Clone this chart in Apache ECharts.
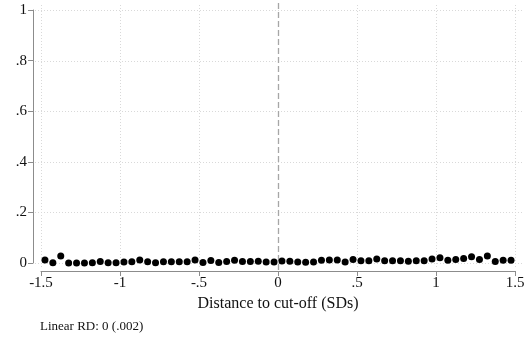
<!DOCTYPE html>
<html>
<head>
<meta charset="utf-8">
<script src="https://cdn.jsdelivr.net/npm/echarts@6/dist/echarts.min.js"></script>
<style>
  html, body { margin: 0; padding: 0; background: #fff; }
  #chart { width: 531px; height: 342px; }
</style>
</head>
<body>
<div id="chart"></div>
<script>
// Bin midpoints of the running variable (distance to cut-off, in SDs)
const binCenters = [
  -1.475, -1.425, -1.375, -1.325, -1.275, -1.225, -1.175, -1.125, -1.075, -1.025,
  -0.975, -0.925, -0.875, -0.825, -0.775, -0.725, -0.675, -0.625, -0.575, -0.525,
  -0.475, -0.425, -0.375, -0.325, -0.275, -0.225, -0.175, -0.125, -0.075, -0.025,
  0.025, 0.075, 0.125, 0.175, 0.225, 0.275, 0.325, 0.375, 0.425, 0.475,
  0.525, 0.575, 0.625, 0.675, 0.725, 0.775, 0.825, 0.875, 0.925, 0.975,
  1.025, 1.075, 1.125, 1.175, 1.225, 1.275, 1.325, 1.375, 1.425, 1.475
];

// Bin means of the outcome
const binMeans = [
  0.012, 0.001, 0.028, 0.000, 0.000, 0.000, 0.001, 0.006, 0.001, 0.001,
  0.004, 0.005, 0.012, 0.005, 0.001, 0.005, 0.005, 0.005, 0.005, 0.012,
  0.002, 0.010, 0.002, 0.006, 0.011, 0.006, 0.006, 0.007, 0.004, 0.004,
  0.008, 0.007, 0.004, 0.003, 0.004, 0.011, 0.012, 0.012, 0.004, 0.014,
  0.009, 0.009, 0.016, 0.009, 0.009, 0.009, 0.007, 0.009, 0.009, 0.016,
  0.021, 0.011, 0.014, 0.018, 0.025, 0.014, 0.028, 0.006, 0.011, 0.011
];

const xTicks = [-1.5, -1, -0.5, 0, 0.5, 1, 1.5];
const yTicks = [0, 0.2, 0.4, 0.6, 0.8, 1];
const cutoff = 0;
const xTitle = 'Distance to cut-off (SDs)';
const note = 'Linear RD: 0 (.002)';

// Stata-style numbers: drop the leading zero (".5", "-.5")
function stataNum(v) {
  const r = Math.round(v * 10) / 10;
  let s = String(r);
  s = s.replace(/^0\./, '.').replace(/^-0\./, '-.');
  return s;
}

const serif = '"Liberation Serif", "DejaVu Serif", serif';
const axisGrey = '#8c8c8c';

const chart = echarts.init(document.getElementById('chart'), null, { renderer: 'canvas' });

chart.setOption({
  animation: false,
  backgroundColor: '#ffffff',
  grid: { left: 41, right: 16, top: 10, bottom: 79, containLabel: false },
  xAxis: {
    type: 'value',
    min: -1.5, max: 1.5, interval: 0.5,
    offset: 8,
    axisLine: { show: true, onZero: false, lineStyle: { color: axisGrey, width: 1 } },
    axisTick: { show: true, length: 5, lineStyle: { color: axisGrey } },
    axisLabel: { color: '#111', fontFamily: serif, fontSize: 15, margin: 5,
                 formatter: v => stataNum(v) },
    splitLine: { show: false },
    name: xTitle, nameLocation: 'middle', nameGap: 19,
    nameTextStyle: { color: '#111', fontFamily: serif, fontSize: 16 }
  },
  yAxis: {
    type: 'value',
    min: 0, max: 1, interval: 0.2,
    offset: 8,
    axisLine: { show: true, onZero: false, lineStyle: { color: axisGrey, width: 1 } },
    axisTick: { show: true, length: 5, lineStyle: { color: axisGrey } },
    axisLabel: { color: '#111', fontFamily: serif, fontSize: 15, margin: 6,
                 formatter: v => stataNum(v) },
    splitLine: { show: false }
  },
  series: [{
    type: 'scatter',
    data: binCenters.map((x, i) => [x, binMeans[i]]),
    symbol: 'circle',
    symbolSize: 7,
    itemStyle: { color: '#000', opacity: 1 },
    z: 5
  }]
});

// Grid lines and the cut-off line span the padded plot region, beyond the axis range
function drawGuides() {
  const els = [];
  const gridStyle = { stroke: '#d9d9d9', lineWidth: 1, lineDash: [1, 2] };
  const plotLeft = 35, plotRight = 523, plotTop = 5, plotBottom = 268;
  yTicks.forEach(v => {
    const y = Math.round(chart.convertToPixel({ yAxisIndex: 0 }, v)) + 0.5;
    els.push({ type: 'line', z: 1, silent: true,
      shape: { x1: plotLeft, y1: y, x2: plotRight, y2: y }, style: gridStyle });
  });
  xTicks.filter(v => v !== cutoff).forEach(v => {
    const x = Math.round(chart.convertToPixel({ xAxisIndex: 0 }, v)) + 0.5;
    els.push({ type: 'line', z: 1, silent: true,
      shape: { x1: x, y1: plotTop, x2: x, y2: plotBottom }, style: gridStyle });
  });
  const xc = Math.round(chart.convertToPixel({ xAxisIndex: 0 }, cutoff)) + 0.5;
  els.push({ type: 'line', z: 2, silent: true,
    shape: { x1: xc, y1: 3, x2: xc, y2: 271 },
    style: { stroke: '#a6a6a6', lineWidth: 1.3, lineDash: [6, 3] } });
  els.push({ type: 'text', left: 40, top: 320, silent: true,
    style: { text: note, fill: '#111', font: '13px ' + serif } });
  chart.setOption({ graphic: els });
}
drawGuides();
</script>
</body>
</html>
